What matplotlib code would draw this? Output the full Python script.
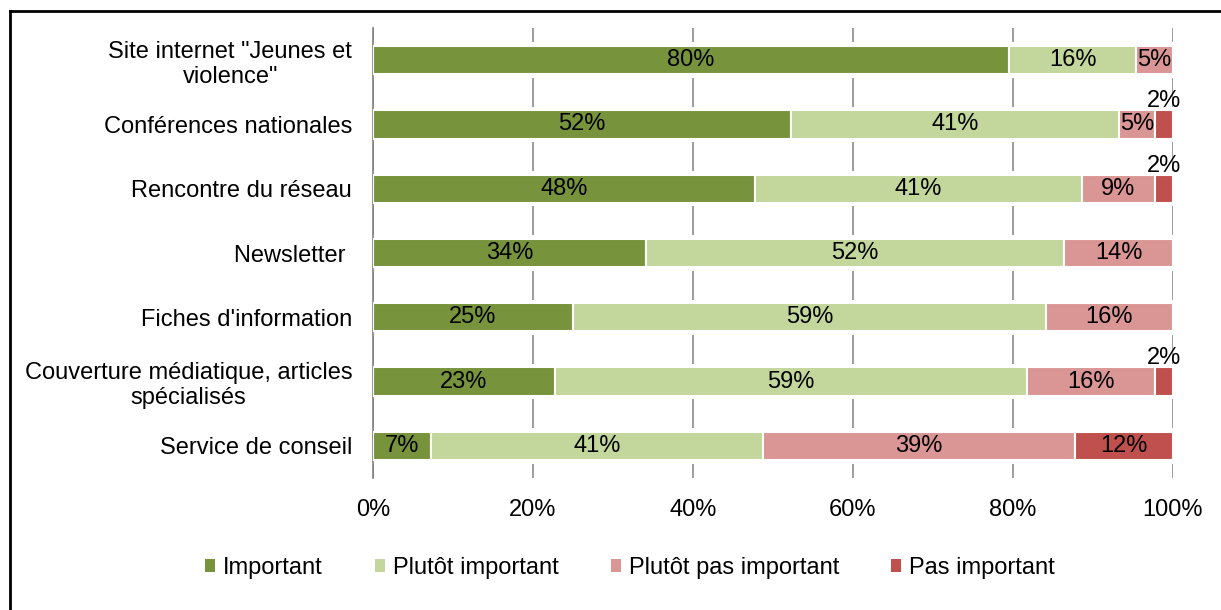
import matplotlib.pyplot as plt
from matplotlib.lines import Line2D
from matplotlib.patches import Patch

plt.rcParams["font.family"] = ["Liberation Sans", "DejaVu Sans"]

categories = [
    'Site internet "Jeunes et\nviolence"',
    "Conférences nationales",
    "Rencontre du réseau",
    "Newsletter ",
    "Fiches d'information",
    "Couverture médiatique, articles\nspécialisés",
    "Service de conseil",
]
series = ["Important", "Plutôt important", "Plutôt pas important", "Pas important"]
important = [79.5, 52.3, 47.7, 34.1, 25.0, 22.7, 7.3]
plutot_important = [15.9, 40.9, 40.9, 52.3, 59.1, 59.1, 41.4]
plutot_pas = [4.6, 4.6, 9.1, 13.6, 15.9, 15.9, 39.0]
pas_important = [0.0, 2.2, 2.3, 0.0, 0.0, 2.3, 12.3]
colors = ["#77933C", "#C3D69B", "#D99694", "#C0504D"]
xticks = [0, 20, 40, 60, 80, 100]

FS = 17

fig = plt.figure(figsize=(12.21, 6.10), dpi=100)
ax = fig.add_axes([373 / 1221, 1 - 478 / 610, 800 / 1221, 450 / 610])

values = [important, plutot_important, plutot_pas, pas_important]
ypos = list(range(len(categories)))
totals = [sum(t) for t in zip(*values)]

# white halo behind each bar so the gridlines stop short of it
ax.barh(ypos, totals, height=0.55, color="white", linewidth=0, zorder=2)

left = [0.0] * len(categories)
for vals, col in zip(values, colors):
    ax.barh(ypos, vals, left=left, height=0.44, color=col,
            edgecolor="white", linewidth=1.5, zorder=3)
    for y, v, l in zip(ypos, vals, left):
        if v <= 0:
            continue
        lab = f"{int(v + 0.5)}%"
        if v < 3:
            ax.text(l + v / 2, y - 0.19, lab, ha="center", va="bottom",
                    fontsize=FS, zorder=4)
        else:
            ax.text(l + v / 2, y, lab, ha="center", va="center",
                    fontsize=FS, zorder=4)
    left = [a + b for a, b in zip(left, vals)]

ax.set_xlim(0, 100)
ax.set_ylim(6.5, -0.5)
ax.set_yticks(ypos)
ax.set_yticklabels(categories, fontsize=FS)
for lbl in ax.get_yticklabels():
    lbl.set_multialignment("center")
ax.set_xticks(xticks)
ax.set_xticklabels([f"{t}%" for t in xticks], fontsize=FS)
ax.tick_params(axis="x", length=0, pad=15)
ax.tick_params(axis="y", length=0, pad=15)
for s in ["top", "right", "bottom"]:
    ax.spines[s].set_visible(False)
ax.spines["left"].set_color("#808080")
ax.spines["left"].set_linewidth(1.2)
ax.spines["left"].set_zorder(2.5)
ax.xaxis.grid(True, color="#8C8C8C", linestyle="-", linewidth=1.2, zorder=1)
ax.set_axisbelow(True)

handles = [Patch(facecolor=c, edgecolor="none") for c in colors]
fig.legend(handles, series, loc="center", bbox_to_anchor=(630 / 1221, 1 - 568 / 610),
           ncol=4, frameon=False, fontsize=FS, handlelength=0.42, handleheight=0.42,
           columnspacing=2.2, handletextpad=0.35)

fig.add_artist(Line2D([9.5 / 1221, 9.5 / 1221], [0, 1 - 10.5 / 610], color="black", linewidth=2))
fig.add_artist(Line2D([9.5 / 1221, 1], [1 - 10.5 / 610, 1 - 10.5 / 610], color="black", linewidth=2))

fig.savefig("out.png", dpi=100)
